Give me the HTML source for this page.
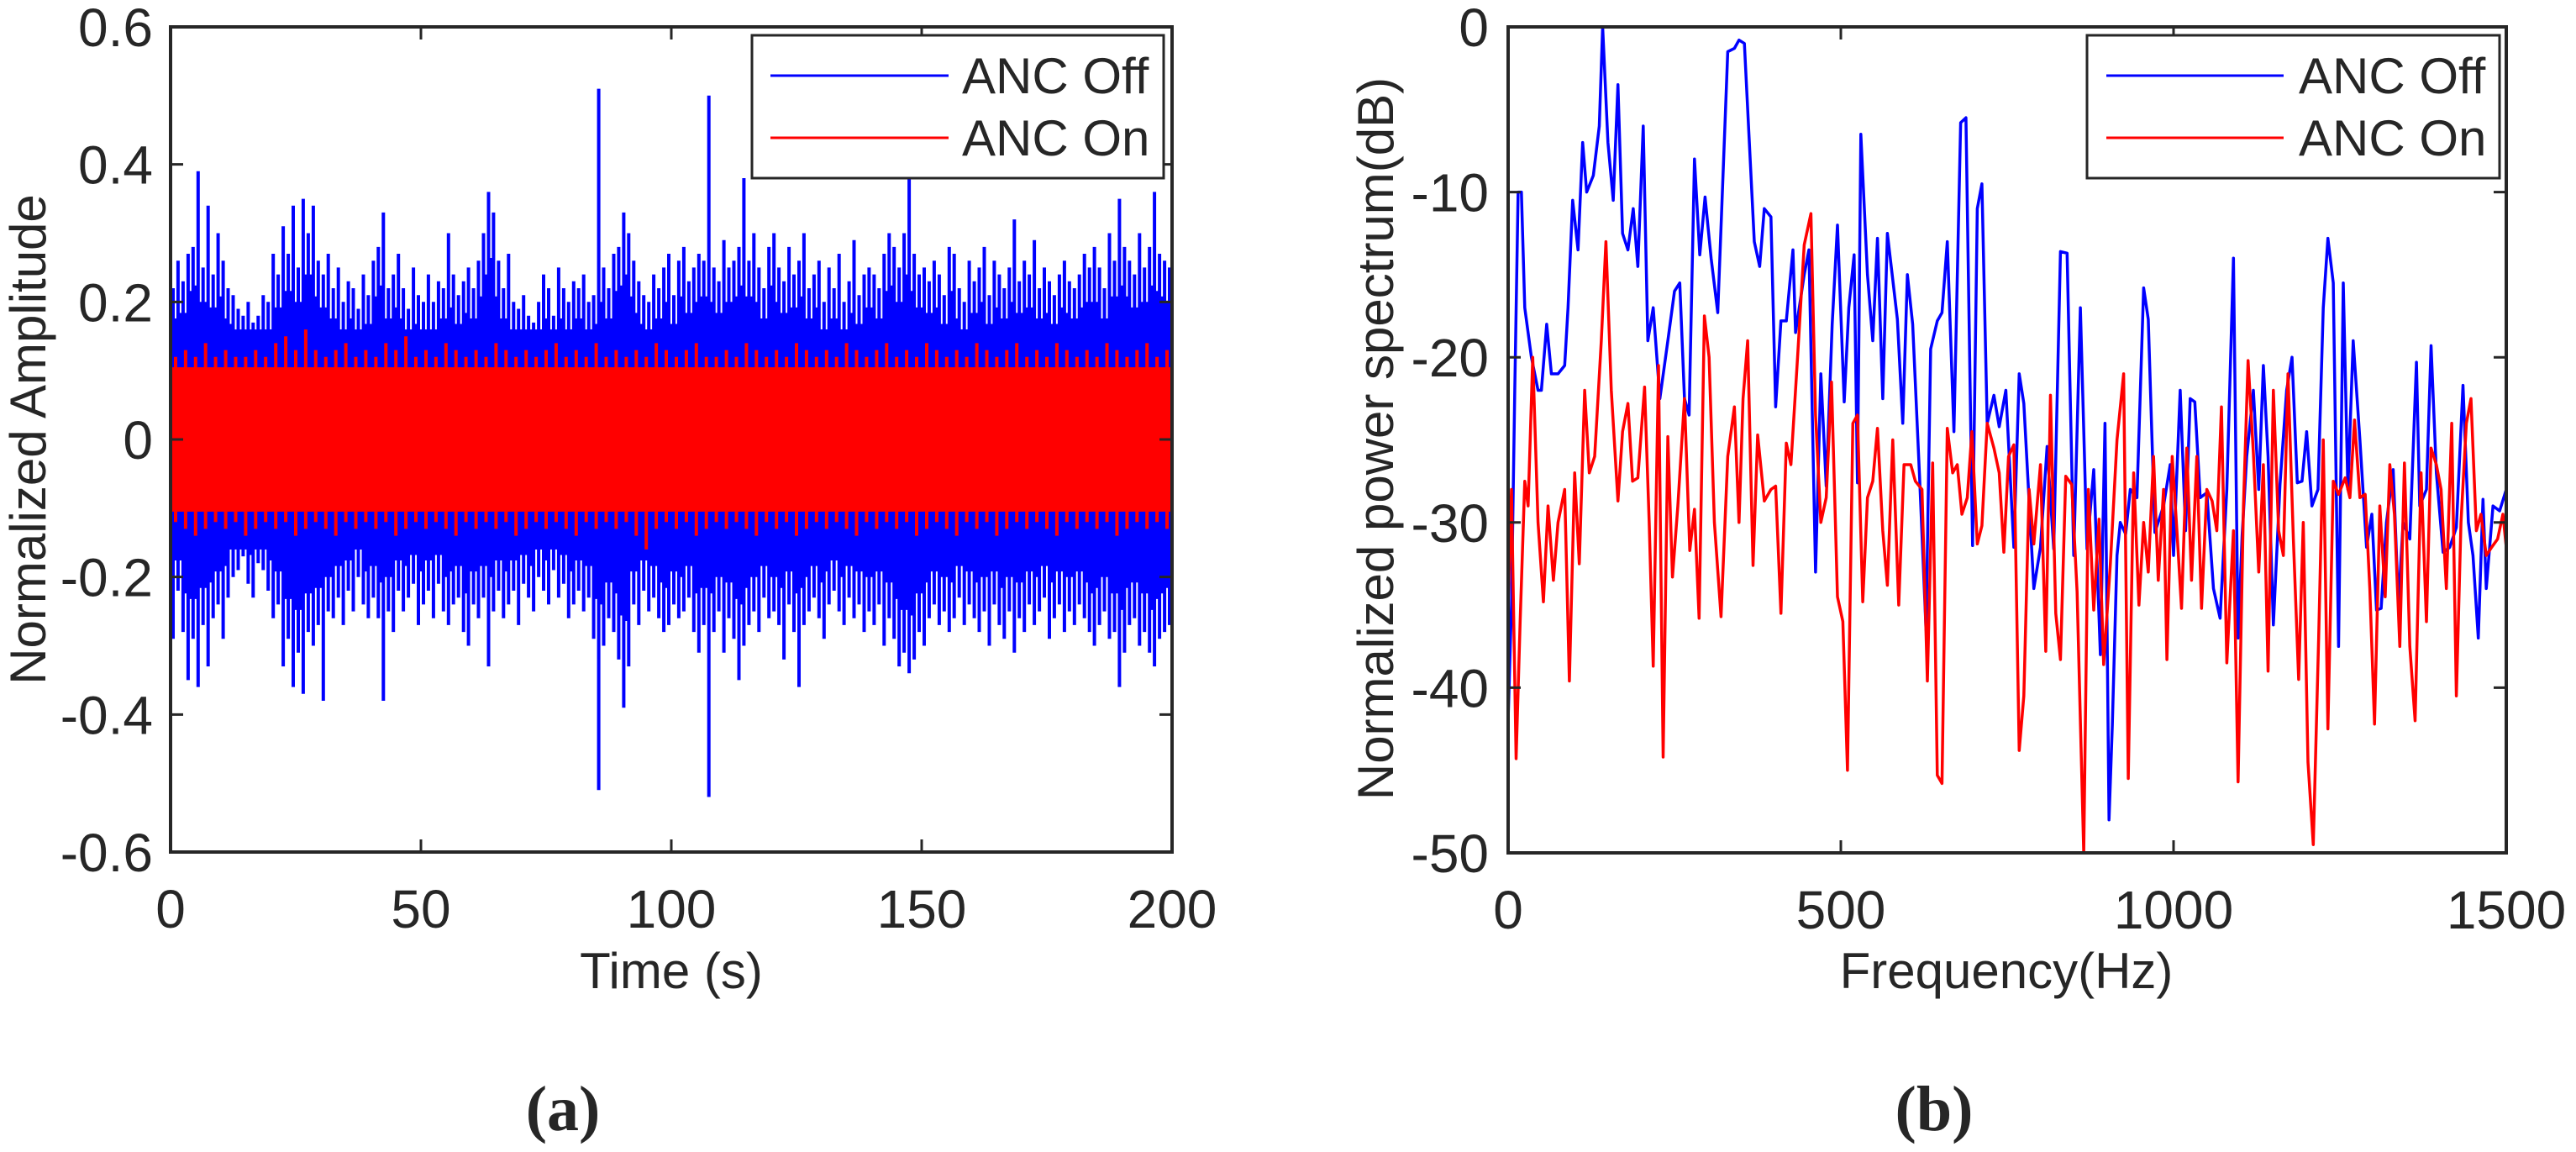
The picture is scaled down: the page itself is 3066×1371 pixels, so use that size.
<!DOCTYPE html>
<html><head><meta charset="utf-8">
<style>
html,body{margin:0;padding:0;background:#fff;}
svg{display:block;}
text{font-family:"Liberation Sans",sans-serif;fill:#262626;}
</style></head>
<body>
<svg id="fig" width="3066" height="1371" viewBox="0 0 3066 1371" xmlns="http://www.w3.org/2000/svg">
<g id="left"></g>
<g id="right"></g>
<text x="670" y="1345" style="font-family:'Liberation Serif',serif;font-weight:bold" font-size="76" text-anchor="middle">(a)</text>
<text x="2302" y="1345" style="font-family:'Liberation Serif',serif;font-weight:bold" font-size="76" text-anchor="middle">(b)</text>
</svg>
<script>
// ---- Left chart data (per-second envelope) ----
const blueHi=[.22,.26,.23,.27,.28,.39,.25,.34,.24,.30,.26,.22,.21,.19,.18,.20,.17,.18,.21,.20,
.27,.24,.31,.27,.34,.25,.35,.30,.34,.26,.24,.27,.22,.25,.20,.23,.22,.19,.24,.21,
.26,.28,.33,.22,.24,.27,.22,.19,.25,.21,.20,.24,.20,.23,.22,.30,.24,.21,.23,.25,
.22,.26,.30,.36,.33,.26,.22,.27,.20,.19,.21,.18,.17,.20,.24,.22,.18,.25,.22,.20,
.23,.22,.24,.20,.21,.51,.25,.22,.27,.28,.33,.30,.26,.23,.21,.20,.24,.22,.25,.27,
.21,.26,.28,.23,.25,.27,.26,.50,.25,.23,.29,.25,.26,.28,.38,.26,.30,.25,.22,.28,
.30,.25,.23,.28,.24,.26,.30,.22,.24,.26,.20,.25,.22,.27,.20,.23,.29,.21,.24,.25,
.24,.22,.27,.30,.28,.25,.30,.39,.27,.24,.25,.23,.26,.24,.21,.28,.27,.22,.20,.26,
.23,.25,.28,.21,.26,.24,.22,.25,.32,.23,.26,.24,.29,.22,.25,.23,.21,.24,.26,.23,
.22,.24,.27,.25,.28,.25,.22,.30,.26,.35,.28,.26,.24,.30,.25,.28,.36,.27,.26,.25];
const blueLo=[-.29,-.22,-.28,-.35,-.29,-.36,-.27,-.33,-.26,-.24,-.29,-.23,-.20,-.19,-.17,-.21,-.23,-.18,-.19,-.22,
-.26,-.24,-.33,-.29,-.36,-.31,-.37,-.28,-.30,-.27,-.38,-.25,-.26,-.23,-.27,-.22,-.25,-.20,-.24,-.26,
-.23,-.26,-.38,-.25,-.28,-.22,-.25,-.23,-.21,-.27,-.24,-.22,-.26,-.21,-.25,-.27,-.24,-.23,-.28,-.30,
-.24,-.26,-.23,-.33,-.25,-.22,-.26,-.24,-.22,-.27,-.21,-.23,-.25,-.20,-.22,-.24,-.19,-.23,-.21,-.26,
-.24,-.22,-.25,-.23,-.29,-.51,-.30,-.26,-.28,-.32,-.39,-.33,-.24,-.27,-.22,-.25,-.23,-.26,-.28,-.27,
-.24,-.26,-.25,-.23,-.28,-.31,-.27,-.52,-.28,-.25,-.31,-.26,-.29,-.35,-.30,-.27,-.25,-.28,-.23,-.26,
-.25,-.27,-.32,-.24,-.28,-.36,-.27,-.25,-.23,-.26,-.29,-.24,-.22,-.25,-.27,-.23,-.26,-.24,-.28,-.25,
-.27,-.24,-.30,-.26,-.29,-.33,-.31,-.34,-.32,-.28,-.30,-.26,-.24,-.27,-.25,-.28,-.26,-.23,-.27,-.24,
-.26,-.28,-.25,-.30,-.24,-.27,-.29,-.25,-.31,-.26,-.28,-.24,-.27,-.25,-.23,-.29,-.26,-.24,-.28,-.25,
-.27,-.24,-.26,-.28,-.30,-.27,-.25,-.29,-.28,-.36,-.31,-.27,-.26,-.30,-.28,-.31,-.33,-.29,-.28,-.27];
const blueCore=0.16;
const redHi=[.12,.13,.12,.14,.12,.13,.12,.12,.13,.12,.14,.15,.13,.16,.13,.12,.13,.14,.12,.13,
.12,.14,.13,.15,.12,.13,.12,.14,.13,.12,.13,.12,.14,.13,.12,.13,.12,.13,.14,.12,
.13,.12,.14,.12,.13,.12,.13,.12,.14,.13,.12,.13,.14,.12,.12,.13,.12,.14,.13,.12,
.13,.12,.14,.13,.12,.13,.12,.14,.13,.12,.13,.14,.12,.13,.12,.14,.13,.12,.13,.12,
.14,.13,.12,.13,.14,.12,.13,.12,.14,.13,.12,.13,.12,.14,.13,.12,.13,.14,.12,.13];
const redLo=[-.12,-.13,-.14,-.13,-.12,-.13,-.12,-.14,-.13,-.12,-.13,-.12,-.14,-.13,-.12,-.13,-.14,-.12,-.13,-.12,
-.13,-.12,-.14,-.13,-.12,-.13,-.12,-.13,-.14,-.12,-.13,-.12,-.13,-.12,-.14,-.13,-.12,-.13,-.12,-.13,
-.14,-.12,-.13,-.12,-.13,-.12,-.14,-.16,-.13,-.12,-.13,-.12,-.14,-.13,-.12,-.13,-.12,-.13,-.14,-.12,
-.13,-.12,-.14,-.13,-.12,-.13,-.12,-.13,-.14,-.12,-.13,-.12,-.13,-.12,-.14,-.13,-.12,-.13,-.14,-.12,
-.13,-.12,-.14,-.13,-.12,-.13,-.12,-.13,-.14,-.12,-.13,-.12,-.13,-.12,-.14,-.13,-.12,-.13,-.12,-.13];
const redCore=0.105;
const leftYTicks=[0.6,0.4,0.2,0,-0.2,-0.4,-0.6];
const leftYLabels=["0.6","0.4","0.2","0","-0.2","-0.4","-0.6"];
const leftXTicks=[0,50,100,150,200];
const leftXLabels=["0","50","100","150","200"];

// ---- Right chart data ----
const offF=[0,5,10,15,20,25,35,45,50,58,65,75,85,90,97,105,112,118,128,137,142,150,158,165,172,180,188,195,203,210,218,228,240,250,258,265,272,280,288,296,305,315,330,340,347,355,370,378,385,395,402,410,418,428,432,445,452,462,470,478,487,495,505,512,520,525,530,540,548,555,563,570,585,593,600,608,618,628,635,645,652,660,670,680,688,698,705,712,720,730,738,748,760,768,775,790,800,810,820,830,840,850,860,870,880,890,897,903,908,915,920,928,935,945,955,962,972,985,995,1000,1010,1018,1025,1032,1040,1050,1060,1070,1080,1090,1097,1103,1110,1120,1128,1135,1142,1150,1160,1170,1178,1186,1193,1200,1208,1217,1225,1232,1240,1248,1255,1262,1270,1280,1290,1298,1305,1312,1320,1330,1338,1345,1355,1365,1370,1380,1387,1395,1405,1415,1425,1435,1443,1450,1458,1465,1470,1480,1490,1500];
const offDb=[-42,-35,-22,-10,-10,-17,-20,-22,-22,-18,-21,-21,-20.5,-17,-10.5,-13.5,-7,-10,-9,-6,0,-7,-10.5,-3.5,-12.5,-13.5,-11,-14.5,-6,-19,-17,-22.5,-19,-16,-15.5,-22.5,-23.5,-8,-13.8,-10.3,-14,-17.3,-1.5,-1.3,-0.8,-1,-13,-14.5,-11,-11.5,-23,-17.8,-17.8,-13.5,-18.5,-15,-13.5,-33,-21,-27.8,-18,-12,-22.7,-17,-13.8,-27.6,-6.5,-15,-19,-12.8,-22.5,-12.5,-17.7,-24,-15,-18,-27,-36.5,-19.5,-17.8,-17.3,-13,-24.5,-5.8,-5.5,-31.4,-11,-9.5,-24,-22.3,-24.2,-22,-31.5,-21,-22.8,-34,-31.5,-25.4,-31.6,-13.6,-13.7,-32,-17,-31.6,-26.8,-38,-24,-48,-42.3,-32,-30,-30.7,-28,-28.5,-15.8,-17.7,-30.6,-29,-26.5,-32,-22,-30.5,-22.5,-22.7,-28.5,-28.2,-34,-35.8,-28,-14,-37,-30.8,-26,-22,-28,-20.5,-26,-36.2,-27.7,-22,-20,-27.6,-27.5,-24.5,-29,-28,-17,-12.8,-15.5,-37.5,-15.5,-28,-19,-25,-31.5,-29.5,-35.3,-35.2,-30,-26.8,-35,-30,-31,-20.3,-29,-28,-19.3,-27,-31.8,-31.5,-30.3,-21.7,-30,-32,-37,-28.6,-34,-29,-29.3,-28];
const onF=[0,5,12,18,25,30,37,45,53,60,68,75,85,92,100,107,115,122,130,140,147,155,165,172,180,187,195,205,212,218,226,233,240,247,255,265,273,280,287,295,302,310,320,330,340,347,353,360,368,375,385,395,402,410,418,425,435,445,455,462,470,478,486,495,503,510,518,525,533,540,548,555,563,570,578,587,595,605,612,622,630,638,645,652,660,668,675,682,690,697,705,712,720,730,738,745,752,760,768,775,783,790,800,808,815,823,830,838,847,855,865,872,880,888,895,905,915,925,932,940,948,955,962,970,977,985,990,998,1005,1012,1020,1027,1035,1042,1050,1058,1065,1072,1080,1090,1097,1105,1112,1120,1128,1135,1142,1150,1158,1165,1172,1180,1188,1195,1202,1210,1218,1225,1232,1240,1248,1258,1265,1272,1280,1288,1295,1302,1310,1318,1325,1332,1340,1347,1355,1363,1372,1380,1387,1395,1402,1410,1418,1425,1432,1440,1447,1455,1462,1470,1478,1487,1495,1500];
const onDb=[-35,-28,-44.3,-36,-27.5,-29,-20,-30,-34.8,-29,-33.5,-30,-28,-39.6,-27,-32.5,-22,-27,-26,-19,-13,-22,-28.7,-24.5,-22.8,-27.5,-27.3,-21.8,-30,-38.7,-20.5,-44.2,-24.8,-33.3,-29,-22.5,-31.7,-29.2,-35.8,-17.5,-20,-30,-35.7,-26,-23,-30,-22.5,-19,-32.6,-24.7,-28.7,-28,-27.8,-35.5,-25.2,-26.5,-20,-13.2,-11.3,-23.5,-30,-28.5,-21.5,-34.5,-36,-45,-24,-23.5,-34.8,-28.5,-27.5,-24.3,-30.5,-33.8,-25,-35,-26.5,-26.5,-27.5,-28,-39.6,-26.4,-45.3,-45.8,-24.3,-27,-26.5,-29.5,-28.5,-24.5,-31.3,-30.2,-24,-25.5,-27,-31.8,-26,-25.3,-43.8,-40.5,-28,-31.3,-26.5,-37.8,-22.3,-35.5,-38.3,-27.2,-27.7,-34.2,-50,-28,-35.3,-29.8,-38.6,-32.5,-25,-21,-45.5,-27,-35,-30,-33,-26,-33.5,-28,-38.3,-26,-30.5,-35.2,-25.5,-33.5,-26,-35.2,-28,-28.7,-30.5,-23,-38.5,-30.5,-45.7,-29,-20.2,-25.8,-33,-26.5,-39,-22,-30.5,-32,-21,-31,-39.5,-30,-44.5,-49.5,-37,-25,-42.5,-27.5,-28.3,-27.3,-28.5,-23.8,-28.5,-28.3,-34,-42.2,-29,-34.5,-26.5,-29.5,-37.5,-26.4,-37.5,-42,-27,-36,-25.5,-26.5,-28,-34,-24,-40.5,-30,-24,-22.5,-30.5,-29.5,-32,-31.5,-31,-29.5,-31.5];
const rightYTicks=[0,-10,-20,-30,-40,-50];
const rightYLabels=["0","-10","-20","-30","-40","-50"];
const rightXTicks=[0,500,1000,1500];
const rightXLabels=["0","500","1000","1500"];

const NS="http://www.w3.org/2000/svg";
function mk(parent,tag,attrs){const e=document.createElementNS(NS,tag);for(const k in attrs)e.setAttribute(k,attrs[k]);parent.appendChild(e);return e;}

function drawAxes(g,L,R,T,B,sx,sy,xt,xl,yt,yl,ylx){
  xt.forEach((v,i)=>{const x=sx(v);
    const t=mk(g,'path',{d:`M${x},${B}V${B-15}M${x},${T}V${T+15}`,stroke:'#262626','stroke-width':3,fill:'none'});
    
    
    const l=mk(g,'text',{x:x,y:B+90,'font-size':64,'text-anchor':'middle'});l.textContent=xl[i];
    
    
  });
  yt.forEach((v,i)=>{const y=sy(v);
    const t=mk(g,'path',{d:`M${L},${y}H${L+15}M${R},${y}H${R-15}`,stroke:'#262626','stroke-width':3,fill:'none'});
    
    
    const l=mk(g,'text',{x:ylx,y:y+23,'font-size':64,'text-anchor':'end'});l.textContent=yl[i];
    
    
  });
  const f=mk(g,'rect',{x:L,y:T,width:R-L,height:B-T,fill:'none',stroke:'#262626','stroke-width':4});
  
  
}
function legend(g,x0,x1,lx0,lx1,tx){
  const r=mk(g,'rect',{x:x0,y:42,width:x1-x0,height:170,fill:'#fff',stroke:'#262626','stroke-width':3});
  
  
  [['#0000ff','ANC Off',90,'legend-entry-anc-off'],['#ff0000','ANC On',164,'legend-entry-anc-on']].forEach(e=>{
    const ln=mk(g,'line',{x1:lx0,x2:lx1,y1:e[2],y2:e[2],stroke:e[0],'stroke-width':3});
    
    
    const t=mk(g,'text',{x:tx,y:e[2]+21,'font-size':60});t.textContent=e[1];
    
    
  });
}

// ---- Left chart ----
(function(){
  const g=document.getElementById('left');
  const L=203,R=1395,T=32,B=1014;
  const sx=t=>L+(t/200)*(R-L);
  const sy=v=>T+(0.6-v)/1.2*(B-T);
  const cp=mk(g,'clipPath',{id:'cl'});mk(cp,'rect',{x:L,y:T,width:R-L,height:B-T});
  const pg=mk(g,'g',{'clip-path':'url(#cl)'});
  const bc=mk(pg,'rect',{x:L,y:sy(blueCore),width:R-L,height:sy(-blueCore)-sy(blueCore),fill:'#0000ff'});
  
  
  let d='';
  blueHi.forEach((h,i)=>{const x=sx(i+0.5);d+='M'+x.toFixed(1)+','+sy(h).toFixed(1)+'V'+sy(blueLo[i]).toFixed(1);});
  const bl=mk(pg,'path',{d:d,stroke:'#0000ff','stroke-width':4,fill:'none'});
  
  
  d='';
  blueHi.forEach((h,i)=>{if(i<blueHi.length-1){const x=sx(i+1);const a=Math.min(h,blueHi[i+1])*0.8,b=Math.max(blueLo[i],blueLo[i+1])*0.8;d+='M'+x.toFixed(1)+','+sy(a).toFixed(1)+'V'+sy(b).toFixed(1);}});
  const bl2=mk(pg,'path',{d:d,stroke:'#0000ff','stroke-width':3,fill:'none'});
  
  
  const rc=mk(pg,'rect',{x:L,y:sy(redCore),width:R-L,height:sy(-redCore)-sy(redCore),fill:'#ff0000'});
  
  
  d='';
  redHi.forEach((h,i)=>{const x=sx(i*2+1);d+='M'+x.toFixed(1)+','+sy(h).toFixed(1)+'V'+sy(redLo[i]).toFixed(1);});
  const rl=mk(pg,'path',{d:d,stroke:'#ff0000','stroke-width':4,fill:'none'});
  
  
  drawAxes(g,L,R,T,B,sx,sy,leftXTicks,leftXLabels,leftYTicks,leftYLabels,182);
  const xl=mk(g,'text',{x:799,y:1176,'font-size':60,'text-anchor':'middle'});xl.textContent='Time (s)';
  
  
  const yl=mk(g,'text',{x:0,y:0,'font-size':60,'text-anchor':'middle',transform:'translate(54,523) rotate(-90)'});yl.textContent='Normalized Amplitude';
  
  
  legend(g,895,1385,917,1129,1145);
})();

// ---- Right chart ----
(function(){
  const g=document.getElementById('right');
  const L=1795,R=2983,T=32,B=1015;
  const sx=f=>L+(f/1500)*(R-L);
  const sy=v=>T+(0-v)/50*(B-T);
  const cp=mk(g,'clipPath',{id:'cr'});mk(cp,'rect',{x:L,y:T-2,width:R-L,height:B-T+4});
  const pg=mk(g,'g',{'clip-path':'url(#cr)'});
  const line=(F,V)=>F.map((f,i)=>(i?'L':'M')+sx(f).toFixed(1)+','+sy(V[i]).toFixed(1)).join('');
  const b=mk(pg,'path',{d:line(offF,offDb),stroke:'#0000ff','stroke-width':3.5,fill:'none','stroke-linejoin':'round'});
  
  
  const r=mk(pg,'path',{d:line(onF,onDb),stroke:'#ff0000','stroke-width':3.5,fill:'none','stroke-linejoin':'round'});
  
  
  drawAxes(g,L,R,T,B,sx,sy,rightXTicks,rightXLabels,rightYTicks,rightYLabels,1772);
  const xl=mk(g,'text',{x:2388,y:1176,'font-size':60,'text-anchor':'middle'});xl.textContent='Frequency(Hz)';
  
  
  const yl=mk(g,'text',{x:0,y:0,'font-size':60,'text-anchor':'middle',transform:'translate(1658,522) rotate(-90)'});yl.textContent='Normalized power spectrum(dB)';
  
  
  legend(g,2484,2975,2507,2718,2736);
})();
</script>
</body></html>
